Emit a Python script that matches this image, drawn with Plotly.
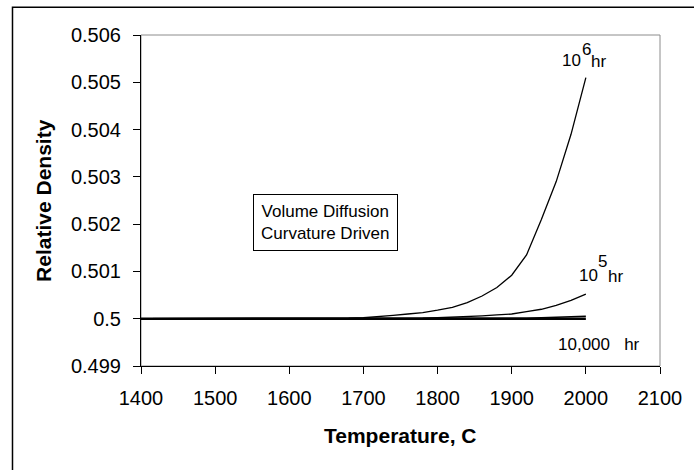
import plotly.graph_objects as go

# ---- data ----
temperature = [1400, 1420, 1440, 1460, 1480, 1500, 1520, 1540, 1560, 1580, 1600, 1620, 1640,
               1660, 1680, 1700, 1720, 1740, 1760, 1780, 1800, 1820, 1840, 1860, 1880,
               1900, 1920, 1940, 1960, 1980, 2000]

density_1e6 = [0.5, 0.5, 0.5, 0.5, 0.5, 0.5, 0.5, 0.5, 0.5, 0.5, 0.5, 0.5, 0.5,
               0.500005, 0.50001, 0.50002, 0.50004, 0.50007, 0.5001, 0.50013, 0.50018,
               0.50024, 0.50034, 0.50048, 0.50066, 0.50092, 0.50135, 0.5021, 0.5029,
               0.5039, 0.5051]

density_1e5 = [0.5, 0.5, 0.5, 0.5, 0.5, 0.5, 0.5, 0.5, 0.5, 0.5, 0.5, 0.5, 0.5,
               0.5, 0.5, 0.5, 0.5, 0.5, 0.5, 0.50001, 0.50002, 0.50003, 0.50004,
               0.50006, 0.50008, 0.5001, 0.50015, 0.5002, 0.50028, 0.50039, 0.50052]

density_1e4 = [0.5, 0.5, 0.5, 0.5, 0.5, 0.5, 0.5, 0.5, 0.5, 0.5, 0.5, 0.5, 0.5,
               0.5, 0.5, 0.5, 0.5, 0.5, 0.5, 0.5, 0.5, 0.5, 0.5, 0.5, 0.5,
               0.5, 0.50001, 0.50002, 0.50003, 0.50004, 0.50005]

density_1e3 = [0.5] * len(temperature)

series = [("10^3 hr", density_1e3, 2.5), ("10,000 hr", density_1e4, 1.5),
          ("10^5 hr", density_1e5, 1.3), ("10^6 hr", density_1e6, 1.3)]

y_ticks = [0.499, 0.5, 0.501, 0.502, 0.503, 0.504, 0.505, 0.506]
y_tick_text = ["0.499", "0.5", "0.501", "0.502", "0.503", "0.504", "0.505", "0.506"]
x_ticks = [1400, 1500, 1600, 1700, 1800, 1900, 2000, 2100]

FONT = "Liberation Sans, Arial, sans-serif"

fig = go.Figure()
for name, vals, w in series:
    fig.add_trace(go.Scatter(x=temperature, y=vals, mode="lines", name=name,
                             line=dict(color="black", width=w), showlegend=False))

W, H = 694, 470
L, R, T, B = 141, 32, 35, 104
pw, ph = W - L - R, H - T - B


def px(xp):
    return (xp - L) / pw


def py(yp):
    return (H - B - yp) / ph


fig.update_layout(
    width=W, height=H,
    margin=dict(l=L, r=R, t=T, b=B),
    paper_bgcolor="white", plot_bgcolor="white",
    font=dict(family=FONT, color="black", size=20),
    xaxis=dict(range=[1400, 2100], tickvals=x_ticks, ticks="outside", ticklen=7,
               tickcolor="black", showline=True, linecolor="black", linewidth=1,
               showgrid=False, zeroline=False, mirror=False,
               tickfont=dict(size=20), ticklabelstandoff=7),
    yaxis=dict(range=[0.499, 0.506], tickvals=y_ticks, ticktext=y_tick_text,
               ticks="outside", ticklen=7, tickcolor="black", showline=True,
               linecolor="black", linewidth=1, showgrid=False, zeroline=False,
               tickfont=dict(size=20), ticklabelstandoff=8),
    shapes=[
        # gray plot-area border (top/right)
        dict(type="rect", xref="paper", yref="paper", x0=0, y0=0, x1=1, y1=1,
             line=dict(color="#8c8c8c", width=1), layer="below"),
        # outer chart border
        dict(type="rect", xref="paper", yref="paper", x0=px(12), y0=py(490),
             x1=px(720), y1=py(7.3), line=dict(color="black", width=1.5)),
    ],
    annotations=[
        dict(text="<b>Temperature, C</b>", xref="paper", yref="paper",
             x=px(402), y=py(435), showarrow=False, font=dict(size=21),
             xanchor="center", yanchor="middle"),
        dict(text="<b>Relative Density</b>", xref="paper", yref="paper",
             x=px(43), y=py(200.5), showarrow=False, font=dict(size=21),
             textangle=-90, xanchor="center", yanchor="middle"),
        dict(text="Volume Diffusion<br>Curvature Driven", xref="paper", yref="paper",
             x=px(326), y=py(222.5), showarrow=False, font=dict(size=17),
             bordercolor="black", borderwidth=1, borderpad=7,
             bgcolor="white", xanchor="center", yanchor="middle"),
        # 10^6 hr label
        dict(text="10", xref="paper", yref="paper", x=px(573.5), y=py(60),
             showarrow=False, font=dict(size=17), xanchor="center", yanchor="middle"),
        dict(text="6", xref="paper", yref="paper", x=px(588), y=py(50),
             showarrow=False, font=dict(size=17), xanchor="center", yanchor="middle"),
        dict(text="hr", xref="paper", yref="paper", x=px(600), y=py(61.5),
             showarrow=False, font=dict(size=17), xanchor="center", yanchor="middle"),
        # 10^5 hr label
        dict(text="10", xref="paper", yref="paper", x=px(590), y=py(275),
             showarrow=False, font=dict(size=17), xanchor="center", yanchor="middle"),
        dict(text="5", xref="paper", yref="paper", x=px(604.5), y=py(261),
             showarrow=False, font=dict(size=17), xanchor="center", yanchor="middle"),
        dict(text="hr", xref="paper", yref="paper", x=px(617.5), y=py(276),
             showarrow=False, font=dict(size=17), xanchor="center", yanchor="middle"),
        # 10,000 hr label
        dict(text="10,000&nbsp;&nbsp;&nbsp;hr", xref="paper", yref="paper",
             x=px(600.5), y=py(344), showarrow=False, font=dict(size=17),
             xanchor="center", yanchor="middle"),
    ],
)

fig.write_html("out.html",
               config={"displayModeBar": False},
               post_script="document.body.style.margin='0';"
                           "document.body.style.overflow='hidden';")
